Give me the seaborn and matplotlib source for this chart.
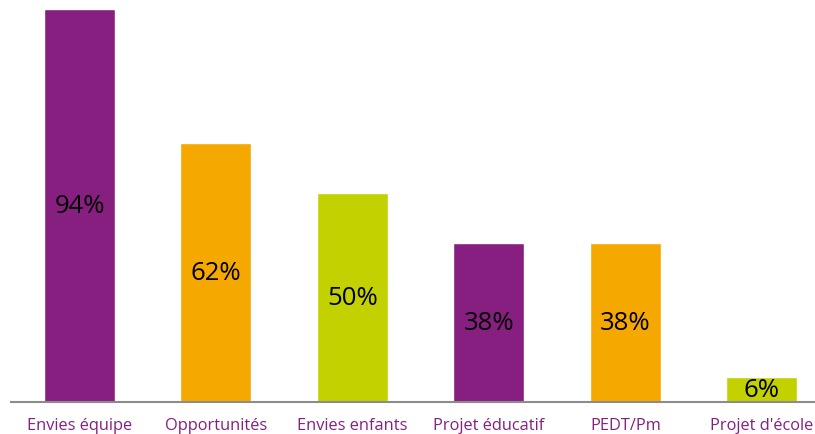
import pandas as pd
import matplotlib.pyplot as plt
import seaborn as sns

categories = ['Envies équipe', 'Opportunités', 'Envies enfants', 'Projet éducatif', 'PEDT/Pm', "Projet d'école"]
values = [94, 62, 50, 38, 38, 6]
colors = ['#861F7F', '#F5A800', '#C3D100', '#861F7F', '#F5A800', '#C3D100']

df = pd.DataFrame({'categorie': categories, 'pourcentage': values})

sns.set_style('white')
plt.rcParams['font.family'] = ['Open Sans', 'DejaVu Sans']

fig = plt.figure(figsize=(8.15, 4.35), dpi=100)
ax = fig.add_axes([11 / 815, 32 / 435, 804 / 815, 393 / 435])

sns.barplot(data=df, x='categorie', y='pourcentage', hue='categorie', palette=colors,
            legend=False, width=0.52, saturation=1, ax=ax)

# étiquettes au centre des barres
for cont in ax.containers:
    ax.bar_label(cont, labels=[f'{v:.0f}%' for v in cont.datavalues],
                 label_type='center', fontsize=18.5, color='black')

ax.set_ylim(0, 94)
ax.set_xlim(-0.502, 5.39)
ax.set_xlabel('')
ax.set_ylabel('')
ax.set_yticks([])
ax.tick_params(axis='x', length=0, pad=11, labelsize=11.8, labelcolor='#861F7F')
for side in ['top', 'right', 'left']:
    ax.spines[side].set_visible(False)
ax.spines['bottom'].set_color('#8C8C8C')
ax.spines['bottom'].set_linewidth(1.5)

plt.savefig('out.png', dpi=100)
